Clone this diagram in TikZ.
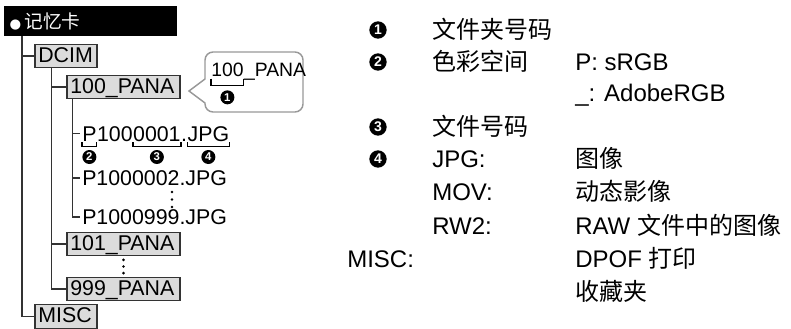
\documentclass[tikz,border=0pt]{standalone}
\usepackage{fontspec}
\setmainfont{Liberation Sans}
\newfontfamily\cjk{Noto Sans CJK SC}
\newfontfamily\symfont{DejaVu Sans}
\usetikzlibrary{positioning, calc}

\definecolor{boxfill}{gray}{0.86}
\definecolor{treeink}{gray}{0.2}
\definecolor{calloutline}{gray}{0.6}

\newcommand{\zh}[1]{{\cjk #1}}
% bracket under a text node: node, top offset, bottom offset
\newcommand{\markspan}[3]{%
  \draw[spanline] ([yshift=-#2]#1.base west) -- ([yshift=-#3]#1.base west)
    -- ([yshift=-#3]#1.base east) -- ([yshift=-#2]#1.base east);}

\tikzset{
  treeline/.style={draw=treeink, line width=1pt},
  dirbox/.style={rectangle, draw=treeink, fill=boxfill, line width=0.8pt,
    inner xsep=2.5pt, inner ysep=0pt, minimum height=17.5pt,
    text height=11.5pt, text depth=2.5pt, align=left,
    font=\fontsize{16}{16}\selectfont},
  shortdir/.style={dirbox, text width=41.5pt},
  longdir/.style={dirbox, text width=79.75pt},
  fname/.style={inner sep=0pt, anchor=base west, font=\fontsize{16}{16}\selectfont},
  spanline/.style={draw=black, line width=1pt},
  numdot/.style={circle, fill=black, text=white, inner sep=0pt,
    minimum size=10.5pt, font=\bfseries\fontsize{8.5}{8.5}\selectfont},
  bignum/.style={numdot, minimum size=13pt,
    font=\bfseries\fontsize{10.5}{10.5}\selectfont},
  keytext/.style={inner sep=0pt, anchor=base west, font=\fontsize{18}{18}\selectfont},
  tipbox/.style={draw=calloutline, fill=white, line width=1.1pt},
  vdot/.style={fill=black},
}

\begin{document}
\begin{tikzpicture}[x=0.75pt, y=-0.75pt]
  \useasboundingbox (0,0) rectangle (791,328);

  % Memory card header
  \node[fill=black, text=white, anchor=north west, inner xsep=4pt, inner ysep=0pt,
        minimum height=22.5pt, text width=121.75pt, align=left,
        font=\fontsize{14}{14}\selectfont] (card) at (4,6)
    {{\symfont\fontsize{10}{10}\selectfont ●}\hspace{2.5pt}\zh{记忆卡}};

  % Folder boxes
  \node[shortdir] (dcim) at (66,56) {DCIM};
  \node[longdir] (pana100) at (123.5,87) {100\_PANA};
  \node[longdir] (pana101) at (123.5,244) {101\_PANA};
  \node[longdir] (pana999) at (123.5,289) {999\_PANA};
  \node[shortdir] (misc) at (66,316.5) {MISC};

  % File names, the first one split into its parts
  \node[fname] (fP) at (82,141) {P};
  \node[fname] (fDir) at (fP.base east) {100};
  \node[fname] (fNum) at (fDir.base east) {0001};
  \node[fname] (fDot) at (fNum.base east) {.};
  \node[fname] (fExt) at (fDot.base east) {JPG};
  \node[fname] (f2) at (82,185.5) {P1000002.JPG};
  \node[fname] (f3) at (82,224.5) {P1000999.JPG};

  % Tree lines
  \coordinate (cardfoot) at (22,36);
  \draw[treeline] (cardfoot) |- (misc.west);
  \draw[treeline] (cardfoot |- dcim.west) -- (dcim.west);

  \coordinate (dcimfoot) at ([xshift=12.75pt]dcim.south west);
  \draw[treeline] (dcimfoot) |- (pana999.west);
  \draw[treeline] (dcimfoot |- pana100.west) -- (pana100.west);
  \draw[treeline] (dcimfoot |- pana101.west) -- (pana101.west);

  \coordinate (panafoot) at ([xshift=4.5pt]pana100.south west);
  \draw[treeline] (panafoot) |- ([xshift=-1.5pt]f3.west);
  \draw[treeline] (panafoot |- fP.west) -- ([xshift=-1.5pt]fP.west);
  \draw[treeline] (panafoot |- f2.west) -- ([xshift=-1.5pt]f2.west);

  % Omitted entries
  \foreach \yy in {192,199.5,207}
    \fill[vdot] (172,\yy) circle (1.1pt);
  \foreach \k in {0.18,0.5,0.82}
    \fill[vdot] ($(pana101.south)!\k!(pana999.north)$) circle (1.1pt);

  % Parts of the file name
  \markspan{fP}{1pt}{4pt}
  \markspan{fNum}{1pt}{4pt}
  \markspan{fExt}{1pt}{4pt}
  \node[numdot] (m2) at ([yshift=-12pt]fP.base) {2};
  \node[numdot] (m3) at ([yshift=-12pt]fNum.base) {3};
  \node[numdot] (m4) at ([yshift=-12pt]fExt.base) {4};

  % Callout for the folder name
  \draw[tipbox] (189,91) -- (205,79) [rounded corners=6pt] -- (205,52) -- (303,52)
    -- (303,112) -- (205,112) [sharp corners] -- (205,103) -- cycle;
  \node[fname, font=\fontsize{14.5}{14.5}\selectfont] (cDir) at (211,76) {100};
  \node[fname, font=\fontsize{14.5}{14.5}\selectfont] (cRest) at (cDir.base east) {\_PANA};
  \markspan{cDir}{2pt}{7pt}
  \node[numdot] (m1) at ([yshift=-16pt]cDir.base) {1};

  % Legend on the right
  \node[bignum] (n1) at (378,30) {1};
  \node[keytext] (t1) at (432,38.5) {\zh{文件夹号码}};
  \node[bignum] (n2) at (378,62) {2};
  \node[keytext] (t2) at (432,70.5) {\zh{色彩空间}};
  \node[keytext] (v2a) at (575,70.5) {P: sRGB};
  \node[keytext] (v2b) at (575,101.5) {\_: AdobeRGB};
  \node[bignum] (n3) at (378,127) {3};
  \node[keytext] (t3) at (432,135.5) {\zh{文件号码}};
  \node[bignum] (n4) at (378,159) {4};
  \node[keytext] (t4) at (432,167.5) {JPG:};
  \node[keytext] (v4a) at (575,167.5) {\zh{图像}};
  \node[keytext] (t5) at (432,200.5) {MOV:};
  \node[keytext] (v5) at (575,200.5) {\zh{动态影像}};
  \node[keytext] (t6) at (432,234.5) {RW2:};
  \node[keytext] (v6) at (575,234.5) {RAW \zh{文件中的图像}};
  \node[keytext] (t7) at (347,267.5) {MISC:};
  \node[keytext] (v7a) at (575,267.5) {DPOF \zh{打印}};
  \node[keytext] (v7b) at (575,300.5) {\zh{收藏夹}};
\end{tikzpicture}
\end{document}
